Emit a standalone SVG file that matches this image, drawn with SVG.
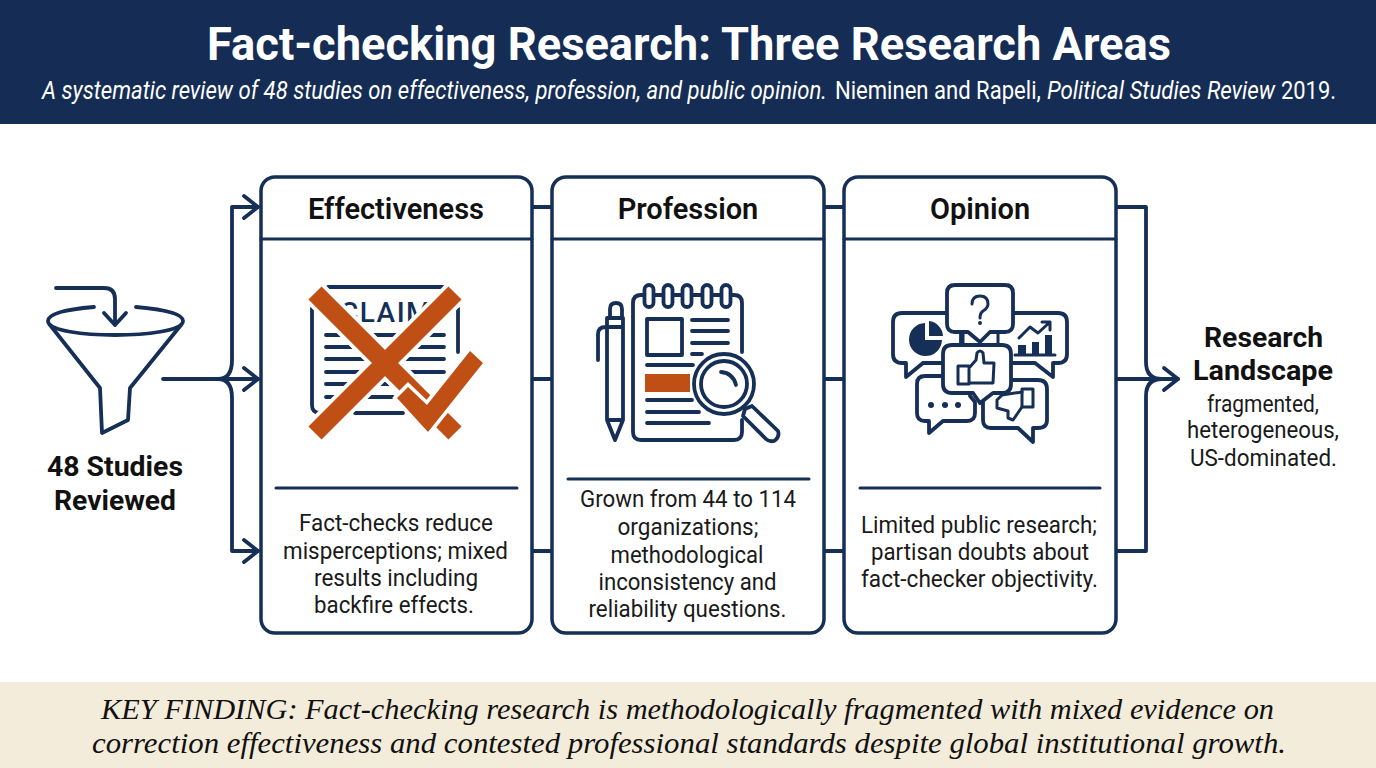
<svg xmlns="http://www.w3.org/2000/svg" width="1376" height="768" viewBox="0 0 1376 768">
<style>
.s{fill:none;stroke:#152f57;stroke-width:3.8;stroke-linecap:round;stroke-linejoin:round}
.t3{stroke-width:3}
.f{fill:#152f57}
.o{fill:#bf4f14}
.card{fill:#fff;stroke:#152f57;stroke-width:3.5}
.div{stroke:#152f57;stroke-width:3;fill:none;stroke-linecap:round}
.h{font:600 29px Roboto,"Liberation Sans",sans-serif;fill:#111;text-anchor:middle}
.b{font:400 24.500px Roboto,"Liberation Sans",sans-serif;fill:#1a1a1a;text-anchor:middle}
.l{font:700 28px Roboto,"Liberation Sans",sans-serif;fill:#111;text-anchor:middle}
.k{font:italic 400 30px "Liberation Serif",serif;fill:#111;text-anchor:middle}
.t{font-family:Roboto,"Liberation Sans",sans-serif;fill:#fff}
</style>
<defs>
<marker id="a" markerUnits="userSpaceOnUse" markerWidth="20" markerHeight="30" refX="16" refY="15" orient="auto" overflow="visible"><path d="M2 4L16 15L2 26" fill="none" stroke="#152f57" stroke-width="3.800" stroke-linecap="round" stroke-linejoin="round"/></marker>
</defs>
<rect width="1376" height="768" fill="#fff"/>
<g id="header">
<rect width="1376" height="124" fill="#152d55"/>
<text class="t" x="689" y="60" text-anchor="middle" font-size="46" font-weight="700" textLength="964" lengthAdjust="spacingAndGlyphs">Fact-checking Research: Three Research Areas</text>
<g transform="scale(.865 1)">
<text class="t" x="48.550" y="99" font-size="25.500" font-style="italic" textLength="907.500" lengthAdjust="spacingAndGlyphs">A systematic review of 48 studies on effectiveness, profession, and public opinion.</text>
<text class="t" x="965.300" y="99" font-size="25.500" textLength="238" lengthAdjust="spacingAndGlyphs">Nieminen and Rapeli,</text>
<text class="t" x="1210.400" y="99" font-size="25.500" font-style="italic" textLength="263.600" lengthAdjust="spacingAndGlyphs">Political Studies Review</text>
<text class="t" x="1480.900" y="99" font-size="25.500" textLength="63.600" lengthAdjust="spacingAndGlyphs">2019.</text>
</g>
</g>
<g id="connectors">
<path class="s" d="M163 379H258" marker-end="url(#a)"/>
<path class="s" d="M218 379Q232 379 232 360V207H258" marker-end="url(#a)"/>
<path class="s" d="M218 379Q232 379 232 398V551H258" marker-end="url(#a)"/>
<path class="s" d="M532 207H552M532 379H552M532 551H552M824 207H844M824 379H844M824 551H844"/>
<path class="s" d="M1116 207H1146V362Q1146 379 1162 379M1116 551H1146V396Q1146 379 1162 379"/>
<path class="s" d="M1116 379H1178" marker-end="url(#a)"/>
</g>
<g id="source">
<path class="s" d="M56 288H104Q115 288 115 299V325M104 313L115 325L126 313"/>
<path class="s" d="M94 307C70 309 48 313 48 321C48 331 85 335 115 335C145 335 183 331 183 321C183 313 160 309 136 307"/>
<path class="s" d="M50 325L100 388L102 433L128 420L130 388L181 325"/>
<text class="l" x="115" y="476" textLength="136" lengthAdjust="spacingAndGlyphs">48 Studies</text>
<text class="l" x="115" y="510" textLength="122" lengthAdjust="spacingAndGlyphs">Reviewed</text>
</g>
<g id="effectiveness">
<rect class="card" x="261" y="177" width="271" height="456" rx="14"/>
<path class="div" d="M261 239H532"/>
<text class="h" x="396" y="219">Effectiveness</text>
<path class="s" d="M328 287H443M312 308V405Q312 413 320 413H336M355 413H403M458 308V352"/>
<text x="386" y="322" font-family="Roboto,'Liberation Sans',sans-serif" font-size="28" font-weight="500" fill="#152f57" text-anchor="middle" letter-spacing="1.500">CLAIM</text>
<path class="s" d="M326 335H444M326 347H444M326 359H444M326 372H444M326 384H393M326 397H393"/>
<path d="M315 293L455 433M455 293L315 433" stroke="#fff" stroke-width="26" fill="none"/>
<path d="M315 293L455 433M455 293L315 433" stroke="#bf4f14" stroke-width="18.500" fill="none"/>
<path d="M397 398L408 387L427 405L470 351L483 363L428 432Z" fill="#fff" stroke="#fff" stroke-width="7"/>
<path class="o" d="M397 398L408 387L427 405L470 351L483 363L428 432Z"/>
<path class="div" d="M276 488H517"/>
<text class="b" x="396" y="531" textLength="194" lengthAdjust="spacingAndGlyphs">Fact-checks reduce</text>
<text class="b" x="395.500" y="559" textLength="225" lengthAdjust="spacingAndGlyphs">misperceptions; mixed</text>
<text class="b" x="396" y="586" textLength="164" lengthAdjust="spacingAndGlyphs">results including</text>
<text class="b" x="394" y="613" textLength="160" lengthAdjust="spacingAndGlyphs">backfire effects.</text>
</g>
<g id="profession">
<rect class="card" x="552" y="177" width="272" height="456" rx="14"/>
<path class="div" d="M552 239H824"/>
<text class="h" x="688" y="219">Profession</text>
<path class="s" d="M742 352V303Q742 295 734 295H641Q633 295 633 303V432Q633 440 641 440H734Q742 440 742 432V420"/>
<rect class="s" style="fill:#fff" x="644.500" y="285" width="9" height="22" rx="4.500"/>
<rect class="s" style="fill:#fff" x="663.500" y="285" width="9" height="22" rx="4.500"/>
<rect class="s" style="fill:#fff" x="682.500" y="285" width="9" height="22" rx="4.500"/>
<rect class="s" style="fill:#fff" x="702.500" y="285" width="9" height="22" rx="4.500"/>
<rect class="s" style="fill:#fff" x="721.500" y="285" width="9" height="22" rx="4.500"/>
<rect class="s" x="647" y="319" width="35" height="36"/>
<path class="s" d="M692 320H728M692 331H728M692 343H728M692 354H702M647 365H693M647 400H692M647 412H699M647 423H709"/>
<rect class="o" x="645" y="374" width="45" height="18"/>
<circle class="s" cx="724" cy="384" r="30" style="fill:#fff"/>
<circle class="s" cx="724" cy="384" r="23"/>
<path class="s" d="M721 372Q733 373 736 385"/>
<path class="s" d="M745 409L752 406L778 431Q780 437 774 441Q769 442 766 439L743 416Z"/>
<path class="s" d="M598 360V334Q598 327 606 327H623M607 318H623V420L615 440L607 420ZM607 420H623M610 318V309Q610 303 616 303Q622 303 622 309V318"/>
<path class="div" d="M568 479H809"/>
<text class="b" x="688" y="507" textLength="216" lengthAdjust="spacingAndGlyphs">Grown from 44 to 114</text>
<text class="b" x="688" y="535" textLength="141" lengthAdjust="spacingAndGlyphs">organizations;</text>
<text class="b" x="687" y="563" textLength="153" lengthAdjust="spacingAndGlyphs">methodological</text>
<text class="b" x="687.500" y="590" textLength="178" lengthAdjust="spacingAndGlyphs">inconsistency and</text>
<text class="b" x="687.500" y="617" textLength="198" lengthAdjust="spacingAndGlyphs">reliability questions.</text>
</g>
<g id="opinion">
<rect class="card" x="844" y="177" width="272" height="456" rx="14"/>
<path class="div" d="M844 239H1116"/>
<text class="h" x="980" y="219">Opinion</text>
<path class="s" d="M961 345V322Q961 313 952 313H902Q893 313 893 322V354Q893 363 902 363H906V377L923 363H945"/>
<path class="f" d="M925 323V340H942A16.500 16.500 0 1 1 925 323Z"/>
<path class="f" d="M929 321A16 16 0 0 1 943 336H929Z"/>
<path class="s" d="M1013 313H1058Q1067 313 1067 322V354Q1067 363 1058 363H1053V377L1035 363H1011"/>
<path class="f" d="M1018 345H1026V355H1018ZM1032 342H1039V355H1032ZM1045 335H1052V355H1045Z"/>
<path class="s t3" d="M1015 355H1055M1019 338L1030 327L1038 333L1050 322M1042 322H1050V330"/>
<path class="s" d="M955 285H1005Q1013 285 1013 293V324Q1013 332 1005 332H990L980 342L968 332H955Q947 332 947 324V293Q947 285 955 285Z" style="fill:#fff"/>
<path class="s t3" d="M972 304Q972 296 980 296Q988 296 988 304Q988 308 983 311Q980 313 980 318"/>
<circle class="f" cx="980" cy="323" r="2"/>
<path class="s t3" d="M963 345V333M998 345V333"/>
<path class="s" d="M945 376H925Q917 376 917 384V413Q917 421 925 421H929V433L943 421H967Q975 421 975 413V402L970 396"/>
<circle class="f" cx="931" cy="405" r="3"/><circle class="f" cx="945" cy="405" r="3"/><circle class="f" cx="958" cy="405" r="3"/>
<path class="s" d="M983 396V420Q983 428 991 428H1018L1033 442V428H1038Q1047 428 1047 420V389Q1047 380 1038 380H1012"/>
<path class="s" style="fill:#fff" d="M952 345H1002Q1011 345 1011 354V384Q1011 393 1002 393H993L980 403L973 393H952Q943 393 943 384V354Q943 345 952 345Z"/>
<path class="s t3" d="M958 366H969V384H958ZM969 368L976 360L977 353Q980 349 983 353L984 363H994L993 383H970"/>
<path class="s t3" style="fill:#fff" d="M1022 389H1033V407H1022Z"/>
<path class="s t3" d="M1022 392L1002 395L997 400V408L1008 411V418L1013 420L1022 407"/>
<path class="div" d="M860 488H1100"/>
<text class="b" x="979" y="533" textLength="236" lengthAdjust="spacingAndGlyphs">Limited public research;</text>
<text class="b" x="980" y="560" textLength="218" lengthAdjust="spacingAndGlyphs">partisan doubts about</text>
<text class="b" x="979.500" y="587" textLength="237" lengthAdjust="spacingAndGlyphs">fact-checker objectivity.</text>
</g>
<g id="landscape">
<text class="l" x="1263.500" y="347" textLength="119" lengthAdjust="spacingAndGlyphs">Research</text>
<text class="l" x="1263" y="380" textLength="140" lengthAdjust="spacingAndGlyphs">Landscape</text>
<text class="b" x="1263" y="412" style="font-size:23.500px" textLength="112" lengthAdjust="spacingAndGlyphs">fragmented,</text>
<text class="b" x="1263" y="438" style="font-size:23.500px" textLength="152" lengthAdjust="spacingAndGlyphs">heterogeneous,</text>
<text class="b" x="1263.500" y="466" style="font-size:23.500px" textLength="147" lengthAdjust="spacingAndGlyphs">US-dominated.</text>
</g>
<g id="key-finding">
<rect y="682" width="1376" height="86" fill="#f4ecda"/>
<text class="k" x="687.500" y="719" textLength="1173" lengthAdjust="spacingAndGlyphs">KEY FINDING: Fact-checking research is methodologically fragmented with mixed evidence on</text>
<text class="k" x="689" y="753" textLength="1194" lengthAdjust="spacingAndGlyphs">correction effectiveness and contested professional standards despite global institutional growth.</text>
</g>
</svg>
